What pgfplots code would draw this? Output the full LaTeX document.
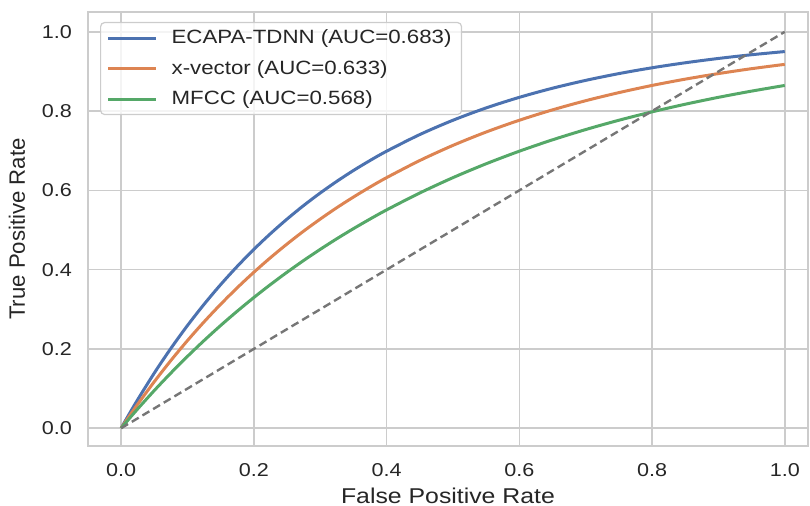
\documentclass[border=0pt]{standalone}
\usepackage{fontspec}
\setmainfont{Liberation Sans}[FakeStretch=1.16]
\newfontfamily\plainsans{Liberation Sans}
\usepackage{pgfplots}
\pgfplotsset{compat=1.18}
\usetikzlibrary{calc}

\definecolor{sbblue}{HTML}{4C72B0}
\definecolor{sborange}{HTML}{DD8452}
\definecolor{sbgreen}{HTML}{55A868}
\definecolor{gridgray}{HTML}{CCCCCC}
\definecolor{dashgray}{HTML}{767676}
\definecolor{txt}{HTML}{262626}

\begin{document}
\begin{tikzpicture}
\begin{axis}[
    scale only axis,
    width=360pt, height=217pt,
    xmin=-0.05, xmax=1.035,
    ymin=-0.045, ymax=1.05,
    xtick={0,0.2,...,1.0},
    ytick={0,0.2,...,1.0},
    /pgf/number format/assume math mode=true,
    xticklabel={\pgfmathprintnumber[fixed,fixed zerofill,precision=1]{\tick}},
    yticklabel={\pgfmathprintnumber[fixed,fixed zerofill,precision=1]{\tick}},
    tick style={draw=none},
    ticklabel style={font=\fontsize{9.3}{11}\selectfont, text=txt},
    xticklabel style={yshift=-5pt},
    yticklabel style={xshift=-4.5pt},
    grid=major,
    major grid style={draw=gridgray, line width=0.75pt},
    axis line style={draw=gridgray, line width=0.9pt},
    xlabel={False Positive Rate},
    ylabel={True Positive Rate},
    xlabel style={font=\fontsize{10.7}{12}\selectfont, text=txt, yshift=1pt},
    ylabel style={font=\plainsans\fontsize{11.1}{13}\selectfont, text=txt, yshift=1.5pt},
    legend cell align=left,
    legend style={
        at={(0.0167,0.977)}, anchor=north west,
        draw=gridgray, line width=0.6pt, rounded corners=2pt,
        fill=white, fill opacity=0.8, text opacity=1,
        font=\fontsize{9.6}{11}\selectfont, text=txt,
        inner xsep=3pt, inner ysep=1.5pt,
        row sep=2.8pt,
        /tikz/every odd column/.append style={column sep=5pt},
    },
    legend image code/.code={\draw[#1] (0pt,0pt) -- (24pt,0pt);},
]
\addplot[sbblue, line width=1.5pt, smooth] coordinates {
(0,0) (0.01,0.0296) (0.025,0.0723) (0.05,0.1393) (0.075,0.2015) (0.1,0.2592)
(0.125,0.3127) (0.15,0.3624) (0.175,0.4084) (0.2,0.4512) (0.225,0.4908)
(0.25,0.5276) (0.275,0.5618) (0.3,0.5934) (0.325,0.6228) (0.35,0.6501)
(0.375,0.6753) (0.4,0.6988) (0.45,0.7408) (0.5,0.7769)
(0.55,0.8080) (0.6,0.8347) (0.65,0.8577) (0.7,0.8775) (0.75,0.8946)
(0.8,0.9093) (0.85,0.9219) (0.9,0.9328) (0.95,0.9422) (1.0,0.9502)};
\addlegendentry{ECAPA-TDNN (AUC=0.683)}
\addplot[sborange, line width=1.5pt, smooth] coordinates {
(0,0) (0.01,0.0247) (0.025,0.0606) (0.05,0.1175) (0.075,0.1710) (0.1,0.2212)
(0.125,0.2684) (0.15,0.3127) (0.175,0.3544) (0.2,0.3935) (0.225,0.4302)
(0.25,0.4647) (0.275,0.4972) (0.3,0.5276) (0.325,0.5563) (0.35,0.5831)
(0.375,0.6084) (0.4,0.6321) (0.45,0.6753) (0.5,0.7135)
(0.55,0.7472) (0.6,0.7769) (0.65,0.8031) (0.7,0.8262) (0.75,0.8466)
(0.8,0.8647) (0.85,0.8806) (0.9,0.8946) (0.95,0.9070) (1.0,0.9179)};
\addlegendentry{x-vector (AUC=0.633)}
\addplot[sbgreen, line width=1.5pt, smooth] coordinates {
(0,0) (0.01,0.0198) (0.025,0.0488) (0.05,0.0952) (0.075,0.1393) (0.1,0.1813)
(0.125,0.2212) (0.15,0.2592) (0.175,0.2953) (0.2,0.3297) (0.225,0.3624)
(0.25,0.3935) (0.275,0.4231) (0.3,0.4512) (0.325,0.4780) (0.35,0.5034)
(0.375,0.5276) (0.4,0.5507) (0.45,0.5934) (0.5,0.6321)
(0.55,0.6671) (0.6,0.6988) (0.65,0.7275) (0.7,0.7534) (0.75,0.7769)
(0.8,0.7981) (0.85,0.8173) (0.9,0.8347) (0.95,0.8504) (1.0,0.8647)};
\addlegendentry{MFCC (AUC=0.568)}
\addplot[dashgray, line width=1.2pt, dash pattern=on 4pt off 2.2pt, forget plot] coordinates {(0,0) (1,1)};
\end{axis}
\pgfresetboundingbox
\path ($(current axis.south west)+(-44pt,-29.5pt)$) rectangle ($(current axis.north east)+(1pt,6pt)$);
\end{tikzpicture}
\end{document}
